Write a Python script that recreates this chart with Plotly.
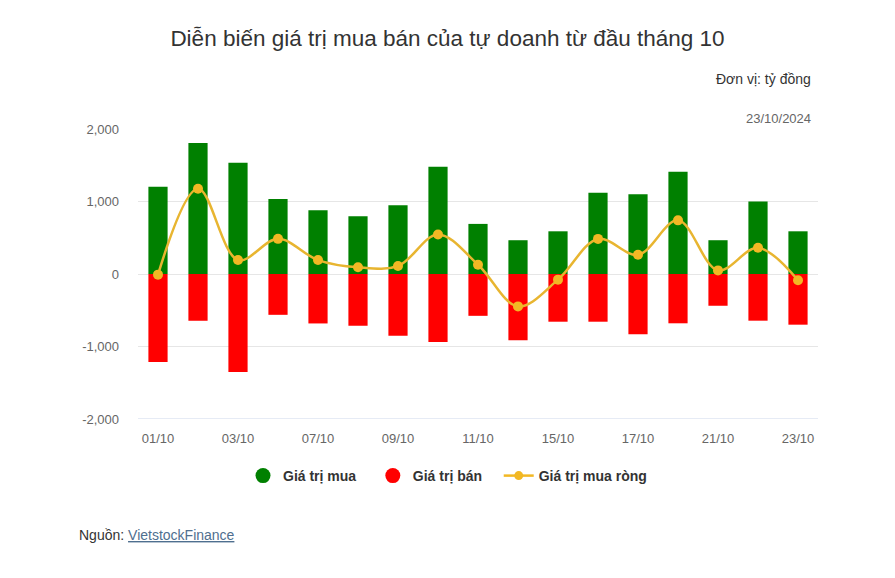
import plotly.graph_objects as go

dates = ["01/10", "02/10", "03/10", "04/10", "07/10", "08/10", "09/10", "10/10", "11/10",
         "14/10", "15/10", "16/10", "17/10", "18/10", "21/10", "22/10", "23/10"]
buy = [1204, 1808, 1533, 1034, 879, 796, 947, 1478, 691, 466, 589, 1119, 1100, 1411, 466, 1000, 589]
sell = [-1213, -645, -1350, -563, -682, -714, -851, -938, -577, -913, -658, -658, -831, -680, -438, -644, -699]
net = [-9, 1176, 192, 485, 192, 92, 110, 545, 128, -447, -78, 484, 265, 740, 50, 361, -87]

ytick_vals = [2000, 1000, 0, -1000, -2000]
ytick_text = ["2,000", "1,000", "0", "-1,000", "-2,000"]
xtick_vals = dates[::2]

GREEN = "#008000"
RED = "#ff0000"
GOLD = "#f2b824"
FONT = "Liberation Sans, Arial, sans-serif"

fig = go.Figure()
fig.add_trace(go.Bar(x=dates, y=buy, name="Giá trị mua", marker_color=GREEN,
                     marker_line_width=0, showlegend=False))
fig.add_trace(go.Bar(x=dates, y=sell, name="Giá trị bán", marker_color=RED,
                     marker_line_width=0, showlegend=False))
fig.add_trace(go.Scatter(x=dates, y=net, name="Giá trị mua ròng", mode="lines+markers",
                         line=dict(color="#e8b530", width=2.5, shape="spline", smoothing=1.0),
                         marker=dict(color=GOLD, size=10), showlegend=False))
# legend entries
fig.add_trace(go.Scatter(x=[None], y=[None], mode="markers", name="<b>Giá trị mua</b>   ",
                         marker=dict(color=GREEN, size=15, symbol="circle")))
fig.add_trace(go.Scatter(x=[None], y=[None], mode="markers", name="<b>Giá trị bán</b>   ",
                         marker=dict(color=RED, size=15, symbol="circle")))
fig.add_trace(go.Scatter(x=[None], y=[None], mode="lines+markers", name="<b>Giá trị mua ròng</b>",
                         line=dict(color=GOLD, width=2.5), marker=dict(color=GOLD, size=9)))

fig.update_layout(
    width=895, height=578,
    margin=dict(l=138, r=77, t=129, b=159),
    paper_bgcolor="white", plot_bgcolor="white",
    font=dict(family=FONT, color="#666666", size=13),
    barmode="relative", bargap=0.52,
    title=dict(text="Diễn biến giá trị mua bán của tự doanh từ đầu tháng 10",
               x=0.5, xref="container", xanchor="center",
               y=1 - 38 / 578, yref="container", yanchor="middle",
               font=dict(size=22.5, color="#333333", family=FONT)),
    legend=dict(orientation="h", x=0.5, xref="container", xanchor="center",
                y=1 - 476 / 578, yref="container", yanchor="middle",
                font=dict(size=14, color="#333333", family=FONT),
                itemsizing="trace", itemwidth=30, traceorder="normal"),
    showlegend=True,
)
fig.update_xaxes(type="category", categoryorder="array", categoryarray=dates,
                 range=[-0.5, len(dates) - 0.5],
                 tickvals=xtick_vals, ticks="", showgrid=False, showline=False,
                 ticklabelstandoff=10,
                 tickfont=dict(size=13, color="#666666"))
fig.update_yaxes(range=[-2000, 2000], tickvals=ytick_vals, ticktext=ytick_text,
                 showgrid=True, gridcolor="#e6e6e6", gridwidth=1, zeroline=False,
                 showline=False, ticks="", ticklabelstandoff=18,
                 tickfont=dict(size=13, color="#666666"))
# bottom axis line
fig.add_shape(type="line", xref="paper", yref="y", x0=0, x1=1, y0=-2000, y1=-2000,
              line=dict(color="#ccd6eb", width=1))

fig.add_annotation(text="Đơn vị: tỷ đồng", xref="paper", yref="paper",
                   x=0.993, y=(419 - 79) / 290, xanchor="right", yanchor="middle",
                   showarrow=False, font=dict(size=14, color="#333333", family=FONT))
fig.add_annotation(text="23/10/2024", xref="paper", yref="paper",
                   x=0.993, y=(419 - 118) / 290, xanchor="right", yanchor="middle",
                   showarrow=False, font=dict(size=13, color="#666666", family=FONT))
fig.add_annotation(text="Nguồn: <span style='color:#4f6f8f'><u>VietstockFinance</u></span>",
                   xref="paper", yref="paper", x=(77 - 138) / 680, y=(419 - 535) / 290,
                   xanchor="left", yanchor="middle", showarrow=False,
                   font=dict(size=14, color="#333333", family=FONT))

fig.write_html("out.html")
